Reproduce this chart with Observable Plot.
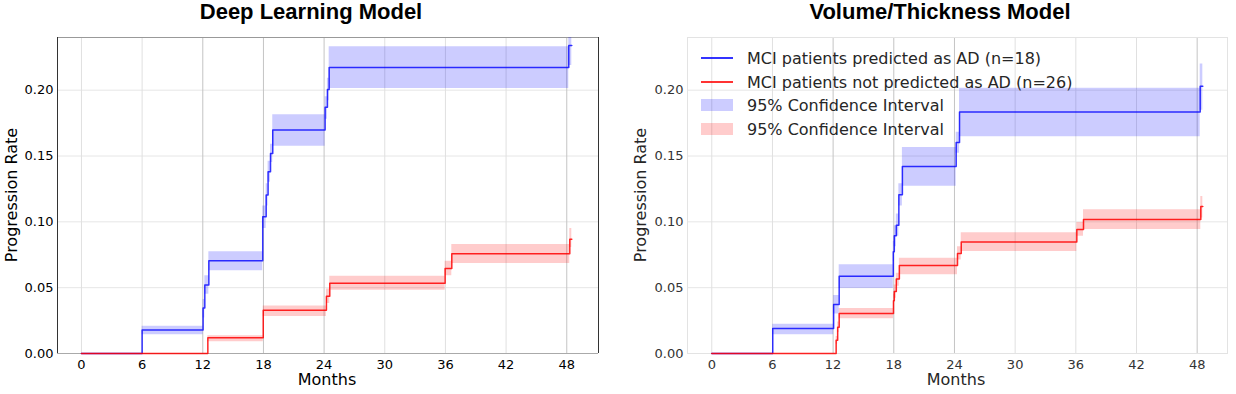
<!DOCTYPE html>
<html><head><meta charset="utf-8">
<script src="https://cdn.jsdelivr.net/npm/d3@7"></script>
<script src="https://cdn.jsdelivr.net/npm/@observablehq/plot@0.6"></script>
<style>
body{margin:0;background:#fff;}
#wrap{position:relative;width:1236px;height:394px;overflow:hidden;font-family:"DejaVu Sans",sans-serif;}
.panel{position:absolute;top:0;}
.title{position:absolute;top:0;font-family:"Liberation Sans",Arial,sans-serif;font-weight:bold;font-size:22px;line-height:24px;transform:translateX(-50%);white-space:nowrap;color:#000;}
.xlab{position:absolute;font-size:16px;line-height:16px;transform:translate(-50%,-50%);white-space:nowrap;}
.ylab{position:absolute;font-size:16px;line-height:16px;transform:translate(-50%,-50%) rotate(-90deg);white-space:nowrap;}
.leg{position:absolute;height:24px;display:flex;align-items:center;font-size:16px;color:#262626;white-space:nowrap;}
.sw{width:32px;margin-right:14px;box-sizing:border-box;flex:none;}
</style></head>
<body><div id="wrap"></div>
<script>
// ---- data ----
const panelTitles = ["Deep Learning Model", "Volume/Thickness Model"];
const xLabel = "Months";
const yLabel = "Progression Rate";
const xTicks = [0, 6, 12, 18, 24, 30, 36, 42, 48];
const yTicks = [0, 0.05, 0.10, 0.15, 0.20];
const visitLines = [12, 18, 24, 48];
const legendLabels = ["MCI patients predicted as AD (n=18)", "MCI patients not predicted as AD (n=26)", "95% Confidence Interval", "95% Confidence Interval"];

// Deep Learning – predicted as AD
const dlPredT  = [0, 6, 12.03, 12.2, 12.6, 17.93, 18.27, 18.46, 18.7, 18.92, 24.1, 24.33, 24.5, 48.2, 48.5];
const dlPredV  = [0, 0.0178, 0.0345, 0.052, 0.0704, 0.1038, 0.1203, 0.138, 0.1519, 0.1697, 0.187, 0.2006, 0.2173, 0.234, 0.234];
const dlPredLo = [0, 0.0142, 0.027, 0.045, 0.0628, 0.095, 0.112, 0.130, 0.145, 0.1575, 0.178, 0.192, 0.2013, 0.2188, 0.2188];
const dlPredHi = [0, 0.0207, 0.041, 0.059, 0.0772, 0.112, 0.129, 0.146, 0.159, 0.1813, 0.195, 0.209, 0.2329, 0.25, 0.25];
// Deep Learning – not predicted as AD
const dlNotT  = [0, 12.5, 17.98, 24.23, 24.56, 35.97, 36.63, 48.3, 48.5];
const dlNotV  = [0, 0.0119, 0.0329, 0.0435, 0.0534, 0.0646, 0.0757, 0.0868, 0.0868];
const dlNotLo = [0, 0.0089, 0.0281, 0.038, 0.0481, 0.059, 0.0684, 0.0805, 0.0805];
const dlNotHi = [0, 0.0134, 0.036, 0.049, 0.0587, 0.070, 0.0828, 0.0949, 0.0949];
// Volume/Thickness – predicted as AD
const vtPredT  = [0, 6.03, 12.05, 12.6, 17.95, 18.05, 18.25, 18.5, 18.85, 24.17, 24.5, 48.3, 48.56];
const vtPredV  = [0, 0.019, 0.0372, 0.0587, 0.0772, 0.0894, 0.0975, 0.1205, 0.142, 0.1602, 0.1835, 0.203, 0.203];
const vtPredLo = [0, 0.0142, 0.030, 0.0494, 0.070, 0.081, 0.089, 0.112, 0.127, 0.152, 0.1646, 0.1848, 0.1848];
const vtPredHi = [0, 0.0223, 0.044, 0.0674, 0.085, 0.097, 0.106, 0.129, 0.1565, 0.168, 0.2015, 0.2198, 0.2198];
// Volume/Thickness – not predicted as AD
const vtNotT  = [0, 12.3, 12.45, 12.6, 17.97, 18.05, 18.25, 18.55, 24.3, 24.67, 36.1, 36.76, 48.36, 48.56];
const vtNotV  = [0, 0.010, 0.020, 0.0304, 0.040, 0.047, 0.0565, 0.0668, 0.076, 0.0846, 0.0942, 0.1018, 0.1117, 0.1117];
const vtNotLo = [0, 0.007, 0.016, 0.0263, 0.034, 0.042, 0.051, 0.0598, 0.071, 0.0775, 0.089, 0.0942, 0.103, 0.103];
const vtNotHi = [0, 0.013, 0.024, 0.0342, 0.045, 0.052, 0.061, 0.0724, 0.081, 0.0917, 0.0995, 0.1091, 0.1193, 0.1193];

const BLUE = "#0000ff", RED = "#ff0000";

function rows(t, v, lo, hi) { return t.map((d, i) => ({t: d, v: v[i], lo: lo[i], hi: hi[i]})); }

function panel(opts) {
  const pred = rows(...opts.pred), not = rows(...opts.not);
  const xd = opts.xDomain, yd = [0, 0.24];
  const marks = [
    Plot.ruleY(yTicks, {stroke: "#e6e6e6", strokeWidth: 1}),
    Plot.ruleX(xTicks.filter(d => !visitLines.includes(d)), {stroke: "#e0e0e0", strokeWidth: 1}),
    Plot.ruleX(visitLines, {stroke: "#c4c4c4", strokeWidth: 1})
  ];
  if (opts.dark) {
    marks.push(Plot.ruleY([yd[0]], {stroke: "#aaa"}), Plot.ruleY([yd[1]], {stroke: "#999"}),
      Plot.ruleX([xd[0]], {stroke: "#333"}), Plot.ruleX([xd[1]], {stroke: "#333"}));
  } else {
    marks.push(Plot.frame({stroke: "#e3e3e3"}));
  }
  marks.push(
    Plot.areaY(pred.filter(d => d.hi > 0), {x: "t", y1: "lo", y2: "hi", curve: "step-after", fill: BLUE, fillOpacity: 0.2, clip: true}),
    Plot.areaY(not.filter(d => d.hi > 0), {x: "t", y1: "lo", y2: "hi", curve: "step-after", fill: RED, fillOpacity: 0.2, clip: true}),
    Plot.line(pred, {x: "t", y: "v", curve: "step-after", stroke: BLUE, strokeOpacity: 0.8, strokeWidth: 1.5}),
    Plot.line(not, {x: "t", y: "v", curve: "step-after", stroke: RED, strokeOpacity: 0.85, strokeWidth: 1.5})
  );
  return Plot.plot({
    width: 618, height: 394,
    marginLeft: opts.ml, marginRight: opts.mr, marginTop: 37, marginBottom: 41,
    x: {domain: xd, ticks: xTicks, tickSize: 0, tickPadding: 6, label: null},
    y: {domain: yd, ticks: yTicks, tickSize: 0, tickPadding: 4, tickFormat: d3.format(".2f"), label: null},
    style: {fontSize: "13px", fontFamily: "DejaVu Sans", color: opts.color, background: "transparent", overflow: "visible"},
    marks
  });
}

const wrap = document.getElementById("wrap");
function add(el, left) { el.classList.add("panel"); el.style.left = left + "px"; wrap.appendChild(el); }

add(panel({pred: [dlPredT, dlPredV, dlPredLo, dlPredHi], not: [dlNotT, dlNotV, dlNotLo, dlNotHi], xDomain: [-2.37, 51.14], ml: 57, mr: 20, dark: true, color: "#000"}), 0);
add(panel({pred: [vtPredT, vtPredV, vtPredLo, vtPredHi], not: [vtNotT, vtNotV, vtNotLo, vtNotHi], xDomain: [-2.4, 51.0], ml: 69, mr: 9, dark: false, color: "#333"}), 618);

function div(cls, text, css) { const d = document.createElement("div"); d.className = cls; d.textContent = text; Object.assign(d.style, css); wrap.appendChild(d); return d; }
div("title", panelTitles[0], {left: "311px", top: "0px"});
div("title", panelTitles[1], {left: "940px", top: "0px"});
div("xlab", xLabel, {left: "327px", top: "380px", color: "#000"});
div("xlab", xLabel, {left: "956px", top: "380px", color: "#262626"});
div("ylab", yLabel, {left: "12px", top: "195px", color: "#000"});
div("ylab", yLabel, {left: "641px", top: "195px", color: "#262626"});

// legend
const legCenters = [58, 82, 105, 129];
const swatches = [
  {height: "2px", background: "rgba(0,0,255,0.8)"},
  {height: "2px", background: "rgba(255,0,0,0.8)"},
  {height: "12px", background: "rgba(0,0,255,0.2)"},
  {height: "12px", background: "rgba(255,0,0,0.2)"}
];
legendLabels.forEach((lab, i) => {
  const row = document.createElement("div");
  row.className = "leg";
  row.style.left = "701px";
  row.style.top = (legCenters[i] - 12) + "px";
  const sw = document.createElement("div");
  sw.className = "sw";
  Object.assign(sw.style, swatches[i]);
  const tx = document.createElement("span");
  tx.textContent = lab;
  row.appendChild(sw); row.appendChild(tx);
  wrap.appendChild(row);
});
</script>
</body></html>
